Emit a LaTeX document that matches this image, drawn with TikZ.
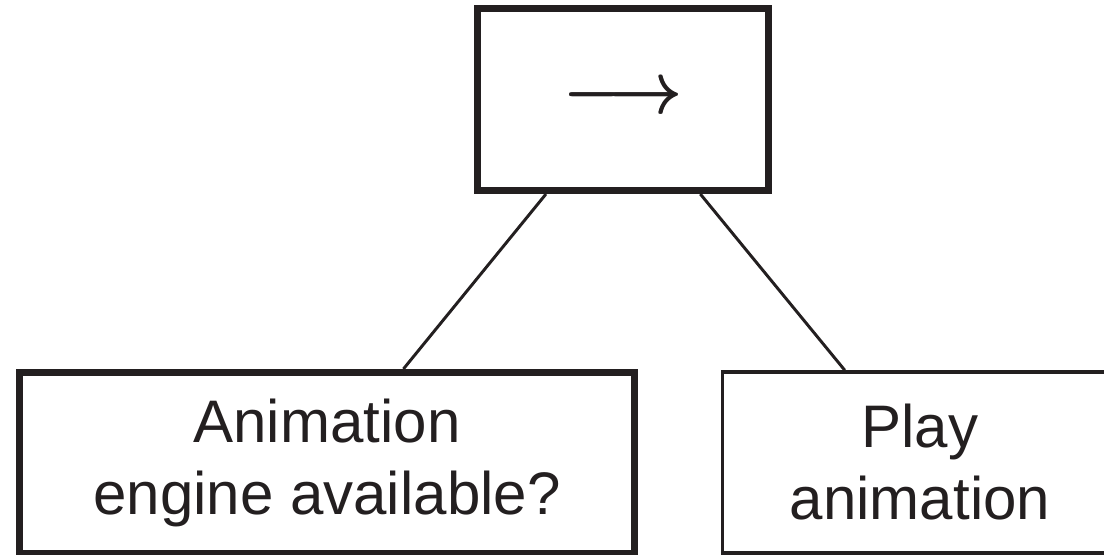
\RequirePackage{fix-cm}
\documentclass[tikz,border=0pt]{standalone}
\usepackage{fontspec}
\setmainfont{Liberation Sans}
\definecolor{inkblack}{RGB}{35,31,32}
\newcommand{\heavyarrow}{%
  \rlap{$\longrightarrow$}\rlap{\raisebox{0.7pt}{$\longrightarrow$}}%
  \hspace{0.5pt}\rlap{$\longrightarrow$}\raisebox{0.7pt}{$\longrightarrow$}}

\begin{document}
\begin{tikzpicture}[x=0.025cm, y=-0.025cm, color=inkblack,
  seqbox/.style={draw, line width=5pt, inner sep=0pt, align=center,
    font=\fontsize{42.7}{51.2}\selectfont},
  actbox/.style={seqbox, line width=2.5pt},
  branch/.style={line width=2.1pt}]

\useasboundingbox (0,0) rectangle (1104,554);

% sequence node and its two children
\node[seqbox, minimum width=7.275cm, minimum height=4.55cm] (seq) at (623,99.5)
  {\fontsize{52}{60}\selectfont\heavyarrow};
\node[seqbox, minimum width=15.375cm, minimum height=4.525cm] (cond) at (327,463)
  {Animation\\engine available?};
\node[actbox, minimum width=9.875cm, minimum height=4.525cm] (play) at (920,462.5)
  {Play\\animation};

\draw[branch] (seq) -- (cond);
\draw[branch] (seq) -- (play);

\end{tikzpicture}
\end{document}
